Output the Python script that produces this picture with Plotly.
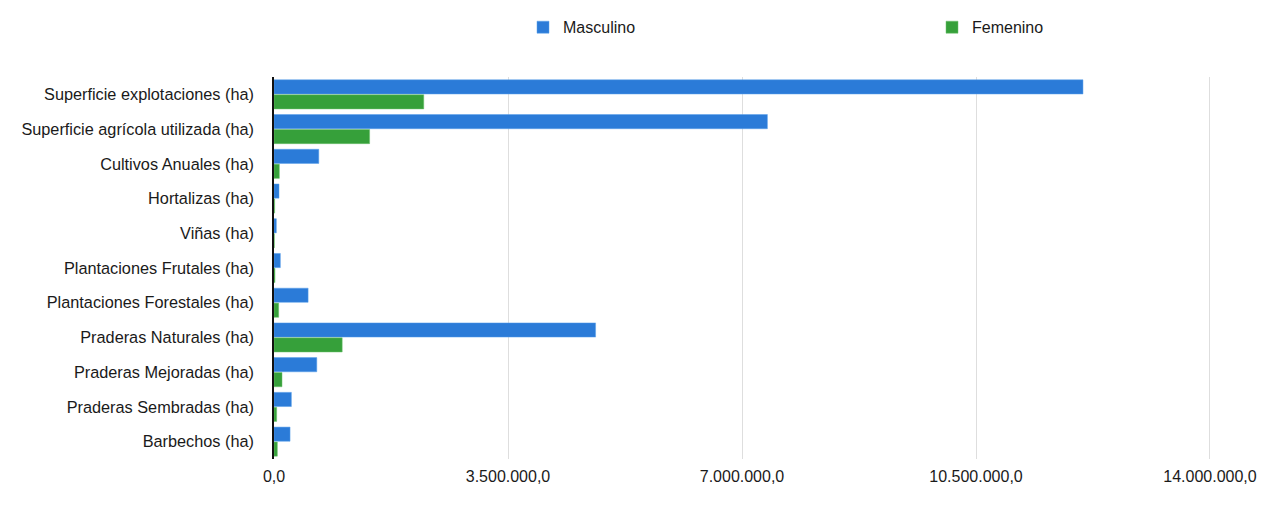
import plotly.graph_objects as go

categories = [
    "Superficie explotaciones (ha)",
    "Superficie agrícola utilizada (ha)",
    "Cultivos Anuales (ha)",
    "Hortalizas (ha)",
    "Viñas (ha)",
    "Plantaciones Frutales (ha)",
    "Plantaciones Forestales (ha)",
    "Praderas Naturales (ha)",
    "Praderas Mejoradas (ha)",
    "Praderas Sembradas (ha)",
    "Barbechos (ha)",
]
masculino = [12100000, 7380000, 670000, 75000, 35000, 95000, 510000, 4810000, 640000, 260000, 240000]
femenino = [2240000, 1430000, 80000, 10000, 5000, 15000, 70000, 1020000, 120000, 40000, 50000]

fig = go.Figure()
fig.add_trace(go.Bar(y=categories, x=masculino, name="Masculino", orientation="h",
                     legend="legend",
                     marker=dict(color="#2b7bd8", line=dict(color="#5aa0ea", width=0.5))))
fig.add_trace(go.Bar(y=categories, x=femenino, name="Femenino", orientation="h",
                     legend="legend2",
                     marker=dict(color="#36a03a", line=dict(color="#6cc06c", width=0.5))))

leg_common = dict(orientation="h", y=0.98, yanchor="top", xanchor="left",
                  xref="container", yref="container", font=dict(size=16),
                  itemclick=False, bgcolor="rgba(0,0,0,0)")

fig.update_layout(
    width=1283, height=514,
    margin=dict(l=274, r=71, t=77, b=55),
    paper_bgcolor="white", plot_bgcolor="white",
    barmode="group", bargap=0.14, bargroupgap=0.05,
    separators=",.",
    font=dict(family="Liberation Sans, Arial, sans-serif", size=16, color="#1a1a1a"),
    showlegend=True,
    legend=dict(x=(545 - 22) / 1283, **leg_common),
    legend2=dict(x=(954 - 22) / 1283, **leg_common),
)
fig.update_xaxes(range=[0, 14030000], tickvals=[0, 3500000, 7000000, 10500000, 14000000],
                 tickformat=",.1f", showgrid=True, gridcolor="#dedede", gridwidth=1,
                 zeroline=False, showline=False, ticks="", ticklabelstandoff=6,
                 tickfont=dict(size=16))
fig.update_yaxes(autorange="reversed", showline=True, linecolor="#111", linewidth=1.5,
                 ticks="", ticklabelstandoff=15, showgrid=False, tickfont=dict(size=16.3))

fig.write_html("out.html")
